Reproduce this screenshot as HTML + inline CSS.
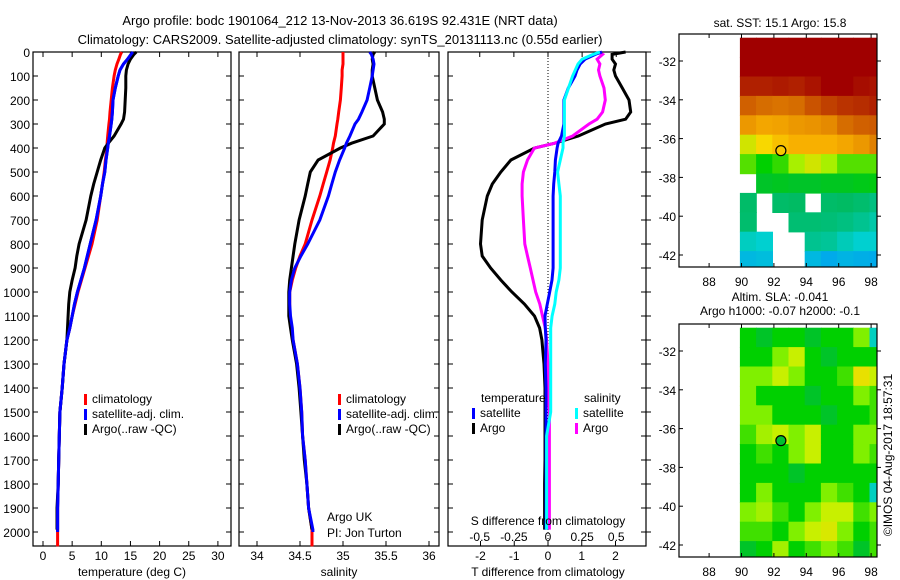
<!DOCTYPE html>
<html><head><meta charset="utf-8">
<style>
body{margin:0;background:#fff;}
svg{display:block;font-family:"Liberation Sans",sans-serif;font-size:12px;}
</style></head>
<body>
<svg id="c" width="900" height="580" xmlns="http://www.w3.org/2000/svg"></svg>
<script>
// ---- profile data ----
const depths=[0,10,30,50,75,100,150,200,250,280,300,350,380,400,450,500,550,600,700,800,850,900,950,1000,1050,1100,1150,1200,1300,1400,1500,1600,1700,1800,1900,1990];
const tempClim=[13.5,13.3,13.0,12.7,12.4,12.2,11.9,11.7,11.5,11.4,11.3,11.1,11.0,11.0,10.7,10.5,10.2,9.9,9.3,8.4,7.8,7.2,6.6,6.0,5.5,5.0,4.6,4.1,3.6,3.3,2.9,2.8,2.7,2.6,2.5,2.5];
const tempSat=[15.4,15.1,14.5,13.8,13.2,12.9,12.4,12.0,11.9,11.8,11.7,11.4,11.2,11.1,10.8,10.6,10.2,9.9,9.1,8.1,7.6,7.1,6.5,5.9,5.4,5.0,4.6,4.1,3.6,3.3,2.9,2.8,2.7,2.6,2.5,2.5];
const tempArgo=[16.0,15.6,15.0,14.6,14.3,14.2,14.2,14.1,14.0,13.8,13.4,12.2,11.2,10.6,9.9,9.3,8.7,8.2,7.4,6.2,5.8,5.5,5.0,4.6,4.4,4.3,4.2,4.1,3.6,3.3,2.9,2.8,2.7,2.6,2.4,2.4];
const salClim=[35.0,35.0,35.0,35.0,34.99,34.99,34.98,34.97,34.95,34.94,34.93,34.91,34.89,34.88,34.85,34.81,34.77,34.73,34.64,34.56,34.50,34.45,34.41,34.38,34.38,34.38,34.40,34.42,34.47,34.50,34.52,34.53,34.56,34.58,34.60,34.64];
const salSat=[35.31,35.33,35.35,35.36,35.35,35.34,35.31,35.28,35.22,35.18,35.14,35.08,35.04,35.02,34.96,34.91,34.87,34.83,34.73,34.59,34.51,34.44,34.40,34.38,34.38,34.39,34.41,34.42,34.47,34.50,34.52,34.53,34.56,34.58,34.60,34.65];
const salArgo=[35.37,35.35,35.34,35.35,35.34,35.34,35.37,35.40,35.46,35.48,35.48,35.35,35.10,34.97,34.71,34.62,34.59,34.56,34.49,34.44,34.42,34.40,34.38,34.37,34.37,34.37,34.39,34.41,34.46,34.49,34.51,34.53,34.55,34.58,34.60,34.64];
const dTSat=[1.6,1.4,1.1,0.95,0.86,0.8,0.6,0.47,0.47,0.47,0.47,0.4,0.3,0.27,0.22,0.2,0.17,0.15,0.15,0.15,0.15,0.15,0.12,0.05,-0.02,-0.09,-0.08,-0.06,-0.08,-0.06,-0.06,-0.06,-0.06,-0.06,-0.06,-0.06];
const dTArgo=[2.3,1.9,1.9,2.0,1.95,2.0,2.2,2.4,2.45,2.3,1.7,0.9,0.2,-0.4,-1.1,-1.4,-1.65,-1.8,-1.95,-2.0,-1.95,-1.7,-1.4,-1.07,-0.7,-0.4,-0.25,-0.18,-0.12,-0.09,-0.09,-0.09,-0.09,-0.1,-0.1,-0.1];
const dSSat=[0.38,0.33,0.25,0.22,0.2,0.18,0.15,0.12,0.12,0.12,0.12,0.12,0.11,0.11,0.09,0.07,0.08,0.09,0.09,0.09,0.09,0.09,0.08,0.06,0.05,0.03,0.02,0.02,0.02,0.02,0.02,-0.01,-0.01,-0.01,-0.01,-0.01];
const dSArgo=[0.37,0.4,0.36,0.38,0.37,0.38,0.41,0.42,0.4,0.36,0.3,0.18,0.05,-0.1,-0.15,-0.18,-0.19,-0.19,-0.18,-0.17,-0.15,-0.13,-0.11,-0.09,-0.06,-0.04,-0.02,-0.01,0.0,0.0,0.01,0.01,0.01,0.01,0.01,0.01];
const depthTicks=[0,100,200,300,400,500,600,700,800,900,1000,1100,1200,1300,1400,1500,1600,1700,1800,1900,2000];
const tempTicks=[0,5,10,15,20,25,30];
const salTicks=[34,34.5,35,35.5,36];
const dTTicks=[-2,-1,0,1,2];
const dSTicks=[-0.5,-0.25,0,0.25,0.5];
// ---- map data (rows: lat from -30.8 in 1deg steps; cols: lon from 89.9 in 1deg steps), null = missing ----
const sstGrid=[
[20,20,20,20,20,20,20,20,20],
[20,20,20,20,20,20,20,20,20],
[19.5,19.5,19.6,19.5,19.7,20,20,19.8,19.7],
[18.5,18.3,18.2,18.3,18.7,19,19.2,19.3,19.5],
[17.5,17.2,17.3,17.5,17.6,17.8,18.3,18.5,18.6],
[15.5,16,16.6,17,17,17,17.2,17.5,18],
[14.5,14,14.3,15,15.5,15,14.5,14.5,14.5],
[null,13.5,13.6,13.5,13.5,13.6,13.6,13.7,13.8],
[12.5,null,12.5,12.6,null,12.5,12.6,12.4,12],
[12.4,null,null,12.3,12.3,12.2,12,11.8,11.5],
[11.2,11,null,null,11.8,11.7,11.3,11,11],
[10.5,10.6,null,null,10.5,10.2,10.4,10.3,10.2]];
const slaGrid=[
[0,-0.5,0,0,-0.5,0,0,1,-2],
[0,0,1,2,0,-0.5,0,0,0],
[1,1,2,1,0,0,0.5,3,2],
[1,0,0,0,-0.5,0,0,1,0.5],
[1,1,0,0,0,-0.5,0,0,0.5],
[0.5,1.5,2,1,2,0,0,1,1],
[0,0.5,0,1,2,0,0,1,0.5],
[0,0,0,-0.5,0,0,0,0,0],
[0,1,0,0,0,1,0.5,0,-2],
[1,1.5,0.5,0,1,2,2,0.5,1],
[0.5,0.5,0,1,2,2.5,1,0,0.5],
[-0.5,0,1.5,0,0.5,1,0.5,-0.5,0.5]];
const latTicks=[-32,-34,-36,-38,-40,-42];
const lonTicks=[88,90,92,94,96,98];
const floatLon=92.431, floatLat=-36.619;

const NS='http://www.w3.org/2000/svg';
const svg=document.getElementById('c');
function el(tag,attrs,parent){const e=document.createElementNS(NS,tag);for(const k in attrs)e.setAttribute(k,attrs[k]);(parent||svg).appendChild(e);return e;}
function txt(x,y,s,anchor,parent){const t=el('text',{x:x,y:y,'text-anchor':anchor||'start',fill:'#000'},parent);t.textContent=s;return t;}

const Y0=52, YS=0.24;
const yD=d=>Y0+d*YS;
const xT=v=>43+v*5.83;
const xS=v=>257+(v-34)*86;
const xDT=v=>548+v*33.75;
const xDS=v=>548+v*136.5;

function panel(name,x1,x2,leftLabels){
  const g=el('g',{});
  
  
  el('rect',{x:x1,y:Y0,width:x2-x1,height:494,fill:'none',stroke:'#000','stroke-width':1.2},g);
  depthTicks.forEach(d=>{
    el('line',{x1:x1,x2:x1+5,y1:yD(d),y2:yD(d),stroke:'#000'},g);
    el('line',{x1:x2,x2:x2-5,y1:yD(d),y2:yD(d),stroke:'#000'},g);
    if(leftLabels){const t=txt(30,yD(d)+5,String(d),'end',g);}
  });
  return g;
}
function xticks(g,ticks,fx,y,labelY){
  ticks.forEach(v=>{
    el('line',{x1:fx(v),x2:fx(v),y1:y,y2:y-5,stroke:'#000'},g);
    el('line',{x1:fx(v),x2:fx(v),y1:Y0,y2:Y0+5,stroke:'#000'},g);
    const t=txt(fx(v),labelY,String(v),'middle',g);
    
    
  });
}
function line(g,xs,fx,color,name,maxDepth){
  let pts=[];
  depths.forEach((d,i)=>{pts.push(fx(xs[i]).toFixed(1)+','+yD(d).toFixed(1));});
  if(maxDepth) pts.push(fx(xs[xs.length-1]).toFixed(1)+','+yD(maxDepth).toFixed(1));
  const p=el('polyline',{points:pts.join(' '),fill:'none',stroke:color,'stroke-width':3},g);
  
  
}
function legend(g,x,y,color,label){
  const r=el('rect',{x:x,y:y-9,width:3,height:11,fill:color},g);
  
  
  const t=txt(x+8,y,label,'start',g);
  
  
}

let t1=txt(340,25,'Argo profile: bodc 1901064_212 13-Nov-2013 36.619S 92.431E (NRT data)','middle');

t1.setAttribute('font-size','13');
let t2=txt(340,44,'Climatology: CARS2009. Satellite-adjusted climatology: synTS_20131113.nc (0.55d earlier)','middle');

t2.setAttribute('font-size','13');

const p1=panel('temperature-panel',33,231,true);
xticks(p1,tempTicks,xT,546,560);
line(p1,tempClim,xT,'#f00','temp-climatology-line',2060);
line(p1,tempSat,xT,'#00f','temp-satellite-line',2000);
line(p1,tempArgo,xT,'#000','temp-argo-line');
line(p1,tempSat,xT,'#00f','temp-satellite-overlay');
let xl=txt(132,576,'temperature (deg C)','middle',p1);
legend(p1,84,403,'#f00','climatology');
legend(p1,84,418,'#00f','satellite-adj. clim.');
legend(p1,84,433,'#000','Argo(..raw -QC)');

const p2=panel('salinity-panel',239,439,false);
xticks(p2,salTicks,xS,546,560);
line(p2,salClim,xS,'#f00','sal-climatology-line',2060);
line(p2,salArgo,xS,'#000','sal-argo-line');
line(p2,salSat,xS,'#00f','sal-satellite-line',2000);
xl=txt(339,576,'salinity','middle',p2);
legend(p2,338,403,'#f00','climatology');
legend(p2,338,418,'#00f','satellite-adj. clim.');
legend(p2,338,433,'#000','Argo(..raw -QC)');
let a1=txt(327,521,'Argo UK','start',p2);
let a2=txt(327,537,'PI: Jon Turton','start',p2);

const p3=panel('difference-panel',448,646,false);
depthTicks.forEach(d=>el('line',{x1:646,x2:651,y1:yD(d),y2:yD(d),stroke:'#000'},p3));
const z=el('line',{x1:548,x2:548,y1:Y0,y2:546,stroke:'#000','stroke-dasharray':'1,2'},p3);

dTTicks.forEach(v=>{el('line',{x1:xDT(v),x2:xDT(v),y1:546,y2:541,stroke:'#000'},p3);
  const t=txt(xDT(v),560,String(v),'middle',p3);});
dSTicks.forEach(v=>{el('line',{x1:xDS(v),x2:xDS(v),y1:Y0,y2:Y0+5,stroke:'#000'},p3);
  const t=txt(xDS(v),541,String(v),'middle',p3);});
line(p3,dTArgo,xDT,'#000','t-diff-argo-line');
line(p3,dSArgo,xDS,'#f0f','s-diff-argo-line');
line(p3,dTSat,xDT,'#00f','t-diff-satellite-line');
line(p3,dSSat,xDS,'#0ff','s-diff-satellite-line');
xl=txt(548,525,'S difference from climatology','middle',p3);
xl=txt(548,576,'T difference from climatology','middle',p3);
let lt=txt(481,402,'temperature','start',p3);
lt=txt(584,402,'salinity','start',p3);
legend(p3,472,417,'#00f','satellite');
legend(p3,472,432,'#000','Argo');
legend(p3,575,417,'#0ff','satellite');
legend(p3,575,432,'#f0f','Argo');

function lerpColor(stops,v){
  const f2=c=>'rgb('+c.join(',')+')';
  if(v<=stops[0][0])return f2(stops[0][1]);
  for(let i=1;i<stops.length;i++){if(v<=stops[i][0]){const a=stops[i-1],b=stops[i];const f=(v-a[0])/(b[0]-a[0]);
    return 'rgb('+a[1].map((c,k)=>Math.round(c+(b[1][k]-c)*f)).join(',')+')';}}
  return f2(stops[stops.length-1][1]);
}
const sstStops=[[10,[0,160,240]],[11,[0,208,208]],[12,[0,192,128]],[13,[0,184,80]],[14,[0,208,0]],[15,[168,240,0]],[16,[248,216,0]],[17,[248,176,0]],[18,[224,128,0]],[19,[192,64,0]],[20,[160,0,0]]];
const slaStops=[[-2,[0,208,192]],[-1,[0,184,80]],[0,[0,208,0]],[1,[128,240,0]],[2,[200,240,0]],[3,[232,224,0]]];
function map(name,oy,grid,stops,titleLines,circleFill){
  const g=el('g',{});
  
  
  const lonX=l=>741.5+(l-90)*16.2;
  const latY=l=>oy+61+(-l-32)*19.4;
  const cid=name+'-clip';
  const cp=el('clipPath',{id:cid},g);el('rect',{x:679,y:oy+34,width:198,height:233},cp);
  const cells=el('g',{'clip-path':'url(#'+cid+')'},g);
  grid.forEach((row,r)=>row.forEach((v,c)=>{
    if(v===null)return;
    const x=lonX(89.9+c), y=latY(-30.8-r);
    const rc=el('rect',{x:x.toFixed(1),y:y.toFixed(1),width:16.9,height:20.1,fill:lerpColor(stops,v)},cells);
    
    
  }));
  el('rect',{x:679,y:oy+34,width:198,height:233,fill:'none',stroke:'#000','stroke-width':1.2},g);
  latTicks.forEach(l=>{el('line',{x1:679,x2:683,y1:latY(l),y2:latY(l),stroke:'#000'},g);el('line',{x1:877,x2:881,y1:latY(l),y2:latY(l),stroke:'#000'},g);
    const t=txt(676,latY(l)+5,String(l),'end',g);});
  lonTicks.forEach(l=>{el('line',{x1:lonX(l),x2:lonX(l),y1:oy+267,y2:oy+263,stroke:'#000'},g);el('line',{x1:lonX(l),x2:lonX(l),y1:oy+34,y2:oy+38,stroke:'#000'},g);
    const t=txt(lonX(l),oy+286,String(l),'middle',g);});
  const ci=el('circle',{cx:lonX(floatLon),cy:latY(floatLat),r:5,fill:circleFill,stroke:'#000','stroke-width':1.2},g);
  
  
  titleLines.forEach((s,i)=>{const t=txt(780,oy+(titleLines.length===1?27:11+i*14),s,'middle',g);});
}
map('sst-map',0,sstGrid,sstStops,['sat. SST: 15.1 Argo: 15.8'],'#f8c800');
map('sla-map',290,slaGrid,slaStops,['Altim. SLA: -0.041','Argo h1000: -0.07 h2000: -0.1'],'#00c030');
const cr=txt(0,0,'©IMOS 04-Aug-2017 18:57:31','middle');
cr.setAttribute('transform','translate(892,455) rotate(-90)');


</script>
</body></html>
